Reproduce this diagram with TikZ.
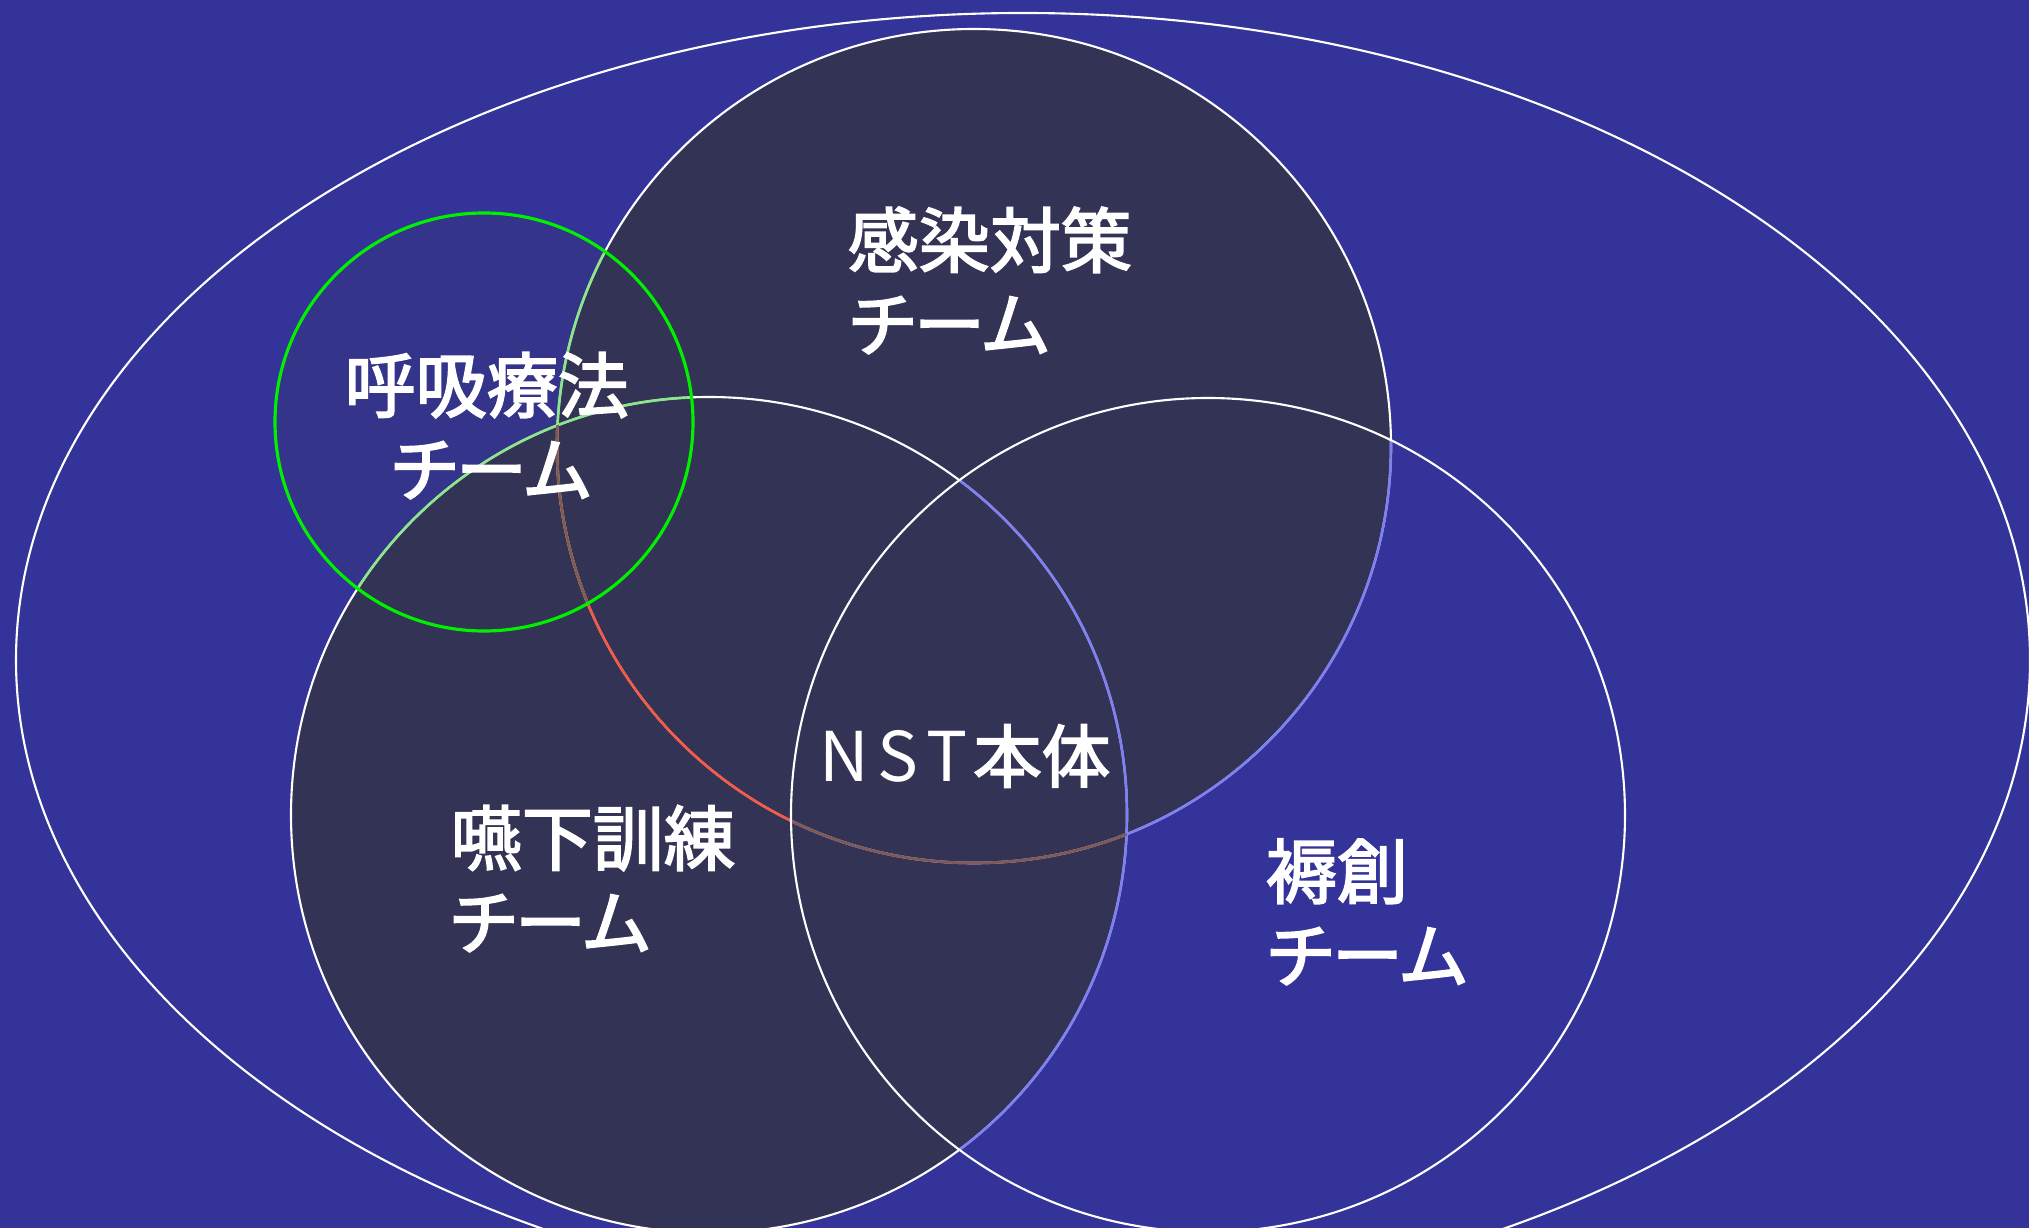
\documentclass[tikz,border=0pt]{standalone}
\usepackage{fontspec}
\newfontfamily\jpfont[FakeBold=2.5]{Noto Sans CJK JP}
\newfontfamily\jpkana[FakeBold=2.5,RawFeature=+palt]{Noto Sans CJK JP}
\newfontfamily\jplatin{Noto Sans CJK JP}
\definecolor{bgblue}{HTML}{333399}
\definecolor{darkfill}{HTML}{333356}
\definecolor{gfill}{HTML}{34348A}
\definecolor{lgreen}{HTML}{8CE68C}
\definecolor{gline}{HTML}{00F000}
\definecolor{redline}{HTML}{F55A46}
\definecolor{brownA}{HTML}{7E5C55}
\definecolor{brownB}{HTML}{7A5C55}
\definecolor{purpleline}{HTML}{8080F0}
\tikzset{
  wline/.style={draw=white, line width=0.6pt},
  cline/.style={line width=0.75pt},
  lbl/.style={text=white, font=\jpfont\fontsize{20.2pt}{24pt}\selectfont, inner sep=0pt, anchor=base west},
  kana/.style={lbl, font=\jpkana\fontsize{20.2pt}{24pt}\selectfont},
}
\begin{document}
\begin{tikzpicture}[x=0.01cm,y=-0.01cm]
\useasboundingbox (0,0) rectangle (2029,1228);
\clip (0,0) rectangle (2029,1228);
\fill[bgblue] (0,0) rectangle (2029,1228);
\coordinate (cE) at (1023,660);
\coordinate (cT) at (974,446);
\coordinate (cB) at (709,815);
\coordinate (cR) at (1208,815);
\coordinate (cG) at (484,422);
% outer ellipse
\draw[wline] (cE) ellipse[x radius=1007, y radius=647];
% fills
\fill[gfill] (cG) circle[radius=209];
\fill[darkfill] (cT) circle[radius=417];
\fill[darkfill] (cB) circle[radius=418];
% outline of the bottom-left circle
\draw[wline] (cB) circle[radius=418];
\begin{scope}
  \clip (cG) circle[radius=209];
  \draw[cline, lgreen] (cB) circle[radius=418];
\end{scope}
\begin{scope}
  \clip (cR) circle[radius=417];
  \draw[cline, purpleline] (cB) circle[radius=418];
\end{scope}
% outline of the top circle
\draw[wline] (cT) circle[radius=417];
\begin{scope}
  \clip (cG) circle[radius=209];
  \draw[cline, lgreen] (cT) circle[radius=417];
\end{scope}
\begin{scope}
  \clip (cB) circle[radius=418];
  \draw[cline, redline] (cT) circle[radius=417];
\end{scope}
\begin{scope}
  \clip (cB) circle[radius=418];
  \clip (cG) circle[radius=209];
  \draw[cline, brownA] (cT) circle[radius=417];
\end{scope}
\begin{scope}
  \clip (cR) circle[radius=417];
  \draw[cline, purpleline] (cT) circle[radius=417];
\end{scope}
\begin{scope}
  \clip (cR) circle[radius=417];
  \clip (cB) circle[radius=418];
  \draw[cline, brownB] (cT) circle[radius=417];
\end{scope}
% right circle
\draw[wline] (cR) circle[radius=417];
% green circle
\draw[gline, line width=0.9pt] (cG) circle[radius=209];
% labels
\node[lbl] (kansen1) at (847,267) {感染対策};
\node[kana] (kansen2) at (849,351) {チーム};
\node[lbl] (kokyu1) at (344,412) {呼吸療法};
\node[kana] (kokyu2) at (391,496) {チーム};
\node[lbl] (enge1) at (450,865) {嚥下訓練};
\node[kana] (enge2) at (450,949) {チーム};
\node[lbl] (joku1) at (1265,898) {褥創};
\node[kana] (joku2) at (1267,982) {チーム};
\node[lbl, font=\jplatin\fontsize{19.5pt}{24pt}\selectfont] (nst) at (819,782) {N\kern0.12em S\kern0.12em T\kern0.08em {\jpfont 本体}};
\end{tikzpicture}
\end{document}
